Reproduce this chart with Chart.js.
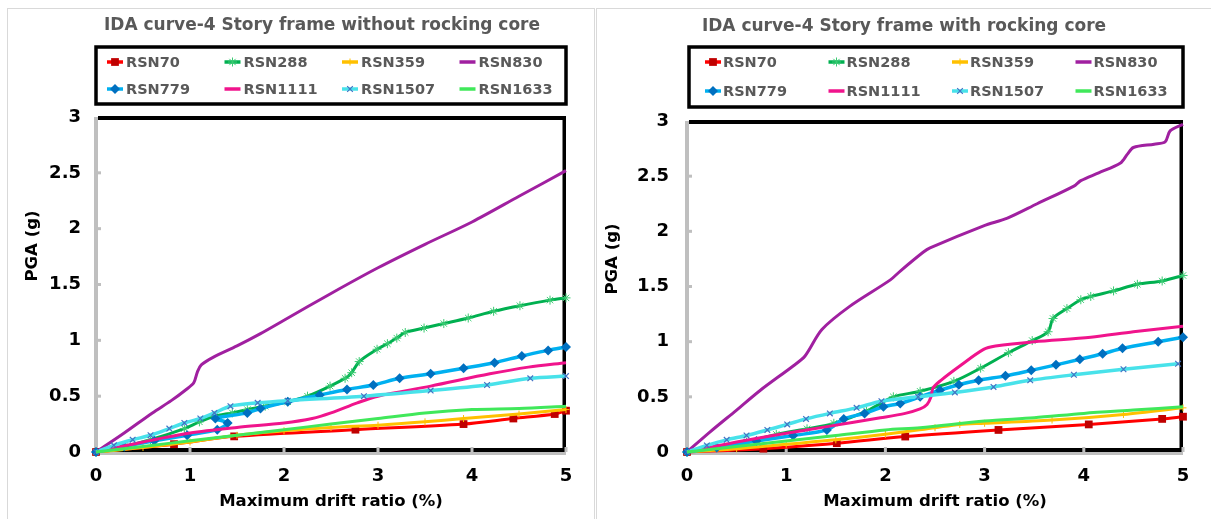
<!DOCTYPE html>
<html>
<head>
<meta charset="utf-8">
<script src="https://cdn.jsdelivr.net/npm/chart.js@4.4.1/dist/chart.umd.min.js"></script>
<style>
html,body{margin:0;padding:0;background:#fff;width:1211px;height:519px;overflow:hidden;}
.panel{position:absolute;border:1px solid #d9d9d9;background:#fff;}
#p1{left:7px;top:8px;width:586px;height:520px;}
#p2{left:596px;top:8px;width:620px;height:520px;}
canvas{position:absolute;left:0;top:0;}
</style>
</head>
<body>
<div class="panel" id="p1"><canvas id="c1" width="586" height="510" style="width:586px;height:510px"></canvas></div>
<div class="panel" id="p2"><canvas id="c2" width="614" height="510" style="width:614px;height:510px"></canvas></div>
<script>
// ---------- DATA ----------
const SERIES = ['RSN70','RSN288','RSN359','RSN830','RSN779','RSN1111','RSN1507','RSN1633'];
const TITLES = ['IDA curve-4 Story frame without rocking core', 'IDA curve-4 Story frame with rocking core'];
const X_TITLE = 'Maximum drift ratio (%)';
const Y_TITLE = 'PGA (g)';
const X_RANGE = [0, 5, 1];     // min, max, step
const Y_RANGE = [0, 3, 0.5];

// Panel 1: without rocking core  [drift %, PGA g]
const noCore_RSN70 = [[0,0],[0.83,0.07],[1.47,0.14],[2.76,0.20],[3.91,0.25],[4.44,0.30],[4.88,0.34],[5,0.37]];
const noCore_RSN288 = [[0,0],[0.3,0.05],[0.58,0.11],[0.94,0.21],[1.1,0.27],[1.26,0.32],[1.45,0.35],[1.61,0.38],[1.8,0.41],[2.04,0.45],[2.25,0.5],[2.49,0.59],[2.65,0.66],[2.72,0.71],[2.8,0.81],[2.99,0.92],[3.1,0.97],[3.2,1.02],[3.29,1.07],[3.49,1.11],[3.7,1.15],[3.96,1.20],[4.23,1.26],[4.51,1.31],[4.83,1.36],[5,1.38]];
const noCore_RSN359 = [[0,0],[0.5,0.04],[1,0.09],[1.5,0.15],[2,0.19],[2.5,0.22],[3,0.24],[3.5,0.27],[3.91,0.30],[4.5,0.34],[5,0.38]];
const noCore_RSN830 = [[0,0],[0.3,0.17],[0.6,0.35],[0.8,0.46],[0.96,0.56],[1.04,0.62],[1.08,0.72],[1.12,0.78],[1.25,0.85],[1.5,0.95],[1.75,1.06],[2,1.18],[2.5,1.42],[3,1.65],[3.5,1.86],[4,2.06],[4.5,2.29],[5,2.52]];
const noCore_RSN779 = [[0,0],[0.3,0.05],[0.62,0.1],[0.97,0.15],[1.29,0.2],[1.40,0.26],[1.27,0.30],[1.61,0.35],[1.75,0.39],[2.04,0.45],[2.38,0.51],[2.67,0.56],[2.95,0.60],[3.23,0.66],[3.56,0.70],[3.91,0.75],[4.24,0.80],[4.53,0.86],[4.81,0.91],[5,0.94]];
const noCore_RSN1111 = [[0,0],[0.5,0.09],[1.0,0.17],[1.5,0.22],[2.0,0.26],[2.3,0.3],[2.5,0.35],[2.78,0.44],[3.0,0.50],[3.56,0.59],[4.19,0.70],[4.6,0.76],[5,0.80]];
const noCore_RSN1507 = [[0,0],[0.19,0.06],[0.39,0.11],[0.58,0.15],[0.78,0.21],[0.94,0.26],[1.11,0.30],[1.26,0.35],[1.43,0.41],[1.72,0.44],[2.04,0.46],[2.85,0.50],[3.56,0.55],[4.16,0.60],[4.62,0.66],[5,0.68]];
const noCore_RSN1633 = [[0,0],[0.5,0.05],[1,0.10],[1.5,0.15],[2,0.20],[2.5,0.25],[3,0.30],[3.5,0.35],[4,0.38],[4.5,0.39],[5,0.41]];

// Panel 2: with rocking core
const withCore_RSN70 = [[0,0],[0.77,0.03],[1.51,0.08],[2.20,0.14],[3.14,0.20],[4.05,0.25],[4.79,0.30],[5,0.32]];
const withCore_RSN288 = [[0,0],[0.3,0.04],[0.6,0.09],[0.9,0.16],[1.21,0.21],[1.48,0.26],[1.81,0.37],[2.08,0.50],[2.35,0.55],[2.69,0.64],[2.96,0.76],[3.24,0.90],[3.48,1.01],[3.64,1.09],[3.69,1.21],[3.83,1.30],[3.97,1.38],[4.07,1.41],[4.30,1.46],[4.54,1.52],[4.79,1.55],[5,1.60]];
const withCore_RSN359 = [[0,0],[0.5,0.03],[1,0.07],[1.5,0.11],[2,0.16],[2.5,0.22],[2.75,0.25],[3,0.26],[3.68,0.29],[4.4,0.34],[5,0.40]];
const withCore_RSN830 = [[0,0],[0.23,0.18],[0.5,0.38],[0.74,0.56],[1.07,0.78],[1.19,0.87],[1.36,1.11],[1.64,1.32],[2.05,1.56],[2.15,1.64],[2.38,1.81],[2.45,1.85],[2.99,2.05],[3.23,2.12],[3.53,2.25],[3.90,2.41],[3.97,2.46],[4.15,2.53],[4.37,2.62],[4.44,2.70],[4.50,2.76],[4.71,2.79],[4.82,2.81],[4.87,2.91],[5.0,2.97]];
const withCore_RSN779 = [[0,0],[0.3,0.04],[0.7,0.1],[1.07,0.15],[1.41,0.20],[1.58,0.30],[1.79,0.35],[1.98,0.41],[2.15,0.44],[2.35,0.50],[2.55,0.56],[2.74,0.61],[2.94,0.65],[3.21,0.69],[3.47,0.74],[3.72,0.79],[3.96,0.84],[4.19,0.89],[4.39,0.94],[4.75,1.00],[5,1.04]];
const withCore_RSN1111 = [[0,0],[0.5,0.09],[1.0,0.17],[1.41,0.23],[1.95,0.31],[2.2,0.35],[2.35,0.39],[2.42,0.43],[2.46,0.5],[2.48,0.58],[2.56,0.65],[2.75,0.78],[2.99,0.93],[3.11,0.96],[3.5,1.0],[4.07,1.04],[4.5,1.09],[5,1.14]];
const withCore_RSN1507 = [[0,0],[0.20,0.06],[0.40,0.11],[0.60,0.15],[0.81,0.20],[1.01,0.25],[1.20,0.30],[1.44,0.35],[1.71,0.40],[1.96,0.46],[2.33,0.50],[2.70,0.54],[3.09,0.59],[3.46,0.65],[3.90,0.70],[4.40,0.75],[4.95,0.80]];
const withCore_RSN1633 = [[0,0],[0.5,0.05],[1,0.1],[1.5,0.15],[2,0.2],[2.35,0.22],[3,0.28],[3.5,0.31],[4,0.35],[4.5,0.38],[5,0.41]];

const PANEL_DATA = [
  [noCore_RSN70, noCore_RSN288, noCore_RSN359, noCore_RSN830, noCore_RSN779, noCore_RSN1111, noCore_RSN1507, noCore_RSN1633],
  [withCore_RSN70, withCore_RSN288, withCore_RSN359, withCore_RSN830, withCore_RSN779, withCore_RSN1111, withCore_RSN1507, withCore_RSN1633]
];

// ---------- STYLE ----------
const FONT = "'DejaVu Sans', 'Liberation Sans', sans-serif";
const STYLE = {
  RSN70:   {borderColor:'#ff0000', borderWidth:3, pointStyle:'rect', pointRadius:5.5, pointBackgroundColor:'#c00000', pointBorderColor:'#c00000', pointBorderWidth:0},
  RSN288:  {borderColor:'#00b050', borderWidth:3, pointStyle:'star', pointRadius:4.5, pointBackgroundColor:'#3acb72', pointBorderColor:'#3acb72', pointBorderWidth:1},
  RSN359:  {borderColor:'#ffc000', borderWidth:3, pointStyle:'cross', pointRadius:3.5, pointBackgroundColor:'#ffc000', pointBorderColor:'#ffc000', pointBorderWidth:1},
  RSN830:  {borderColor:'#a020a0', borderWidth:3, pointRadius:0},
  RSN779:  {borderColor:'#00b0f0', borderWidth:3.5, pointStyle:'rectRot', pointRadius:5, pointBackgroundColor:'#0070c0', pointBorderColor:'#0070c0', pointBorderWidth:0},
  RSN1111: {borderColor:'#f0148c', borderWidth:3, pointRadius:0},
  RSN1507: {borderColor:'#48e2ea', borderWidth:3.5, pointStyle:'crossRot', pointRadius:4, pointBackgroundColor:'#4472c4', pointBorderColor:'#4472c4', pointBorderWidth:1.2},
  RSN1633: {borderColor:'#40e85a', borderWidth:3, pointRadius:0}
};

function legendMarker(ctx, ds, x, y) {
  const r = ds.pointRadius;
  if (!r) return;
  ctx.save();
  ctx.fillStyle = ds.pointBackgroundColor;
  ctx.strokeStyle = ds.pointBorderColor;
  ctx.lineWidth = ds.pointBorderWidth || 1;
  ctx.beginPath();
  const s = ds.pointStyle;
  if (s === 'rect') { const h = r * Math.SQRT1_2; ctx.rect(x-h, y-h, 2*h, 2*h); ctx.fill(); }
  else if (s === 'rectRot') { ctx.moveTo(x, y-r); ctx.lineTo(x+r, y); ctx.lineTo(x, y+r); ctx.lineTo(x-r, y); ctx.closePath(); ctx.fill(); }
  else {
    const d = r * Math.SQRT1_2;
    if (s === 'cross' || s === 'star') { ctx.moveTo(x, y-r); ctx.lineTo(x, y+r); ctx.moveTo(x-r, y); ctx.lineTo(x+r, y); }
    if (s === 'crossRot' || s === 'star') { ctx.moveTo(x-d, y-d); ctx.lineTo(x+d, y+d); ctx.moveTo(x+d, y-d); ctx.lineTo(x-d, y+d); }
    ctx.stroke();
  }
  ctx.restore();
}

const panelPlugin = {
  id: 'panel',
  beforeDatasetsDraw(chart) {
    const {ctx, chartArea: a, scales: {x, y}} = chart;
    ctx.save();
    ctx.fillStyle = '#bfbfbf';
    ctx.fillRect(a.left - 2, a.top, 4, a.bottom - a.top + 3);
    ctx.fillRect(a.left - 2, a.bottom, a.right - a.left + 2, 3);
    ctx.fillStyle = '#000';
    ctx.fillRect(a.left + 2, a.top - 1, a.right - a.left - 2, 4);
    ctx.fillRect(a.right - 3.5, a.top - 1, 3.5, a.bottom - a.top + 1);
    ctx.fillRect(a.left + 2, a.bottom - 4, a.right - a.left - 2, 4);
    ctx.fillStyle = '#bfbfbf';
    y.ticks.forEach(t => { if (t.value > 0 && t.value < Y_RANGE[1]) { const p = y.getPixelForValue(t.value); ctx.fillRect(a.left + 2, p - 1.5, 3, 3); } });
    x.ticks.forEach(t => { if (t.value > 0) { const p = x.getPixelForValue(t.value); ctx.fillRect(p - 1.5, a.bottom - 5, 3, 5); } });
    ctx.restore();
  },
  afterDraw(chart, args, o) {
    const ctx = chart.ctx;
    ctx.save();
    ctx.textAlign = 'center';
    ctx.textBaseline = 'middle';
    ctx.font = 'bold 17px ' + FONT;
    ctx.fillStyle = '#595959';
    ctx.fillText(o.title, o.titleX, o.titleY);
    ctx.save();
    ctx.translate(o.yTitleX, o.yTitleY);
    ctx.rotate(-Math.PI / 2);
    ctx.font = 'bold 16.5px ' + FONT;
    ctx.fillStyle = '#000';
    ctx.fillText(Y_TITLE, 0, 0);
    ctx.restore();
    const L = o.legend;
    ctx.lineWidth = 3.5;
    ctx.strokeStyle = '#000';
    ctx.strokeRect(L.x, L.y, L.w, L.h);
    ctx.font = 'bold 14.5px ' + FONT;
    ctx.textAlign = 'left';
    chart.data.datasets.forEach((ds, i) => {
      const col = i % 4, row = Math.floor(i / 4);
      const mx = L.x + col * L.w / 4 + L.markerOff, my = L.rows[row];
      ctx.strokeStyle = ds.borderColor;
      ctx.lineWidth = 3.5;
      ctx.beginPath(); ctx.moveTo(mx - 8, my); ctx.lineTo(mx + 8, my); ctx.stroke();
      legendMarker(ctx, ds, mx, my);
      ctx.fillStyle = '#595959';
      ctx.fillText(ds.label, mx + L.textOff, my + 1);
    });
    ctx.restore();
  }
};

function makeChart(canvasId, panelIdx, geo) {
  const datasets = SERIES.map((name, i) => Object.assign({
    label: name,
    data: PANEL_DATA[panelIdx][i].map(p => ({x: p[0], y: p[1]})),
    showLine: true, fill: false, tension: 0.3, clip: false, order: -i
  }, STYLE[name]));
  const tickFont = {family: FONT, size: 18, weight: 'bold'};
  const fmt = v => String(Math.round(v * 10) / 10);
  return new Chart(document.getElementById(canvasId), {
    type: 'scatter',
    data: {datasets},
    plugins: [panelPlugin],
    options: {
      responsive: false, animation: false, devicePixelRatio: 1,
      layout: {padding: {top: geo.top, right: geo.right, bottom: 7, left: 0}},
      plugins: {
        legend: {display: false}, tooltip: {enabled: false}, title: {display: false},
        panel: {title: TITLES[panelIdx], titleX: geo.titleX, titleY: geo.titleY, yTitleX: geo.yTitleX, yTitleY: geo.yTitleY, legend: geo.legend}
      },
      scales: {
        x: {type: 'linear', min: X_RANGE[0], max: X_RANGE[1],
            ticks: {stepSize: X_RANGE[2], padding: 14, color: '#000', font: tickFont, callback: fmt},
            grid: {display: false, drawTicks: false}, border: {display: false},
            title: {display: true, text: X_TITLE, color: '#000', font: {family: FONT, size: 16.5, weight: 'bold'}, padding: {top: 0, bottom: 0}},
            afterFit(s) { s.height = 60; }},
        y: {type: 'linear', min: Y_RANGE[0], max: Y_RANGE[1],
            ticks: {stepSize: Y_RANGE[2], padding: geo.yPad, color: '#000', font: tickFont, callback: fmt},
            grid: {display: false, drawTicks: false}, border: {display: false},
            afterFit(s) { s.width = geo.yWidth; }}
      }
    }
  });
}

makeChart('c1', 0, {top: 108, right: 28, yWidth: 88, yPad: 15, titleX: 314, titleY: 17, yTitleX: 25, yTitleY: 237,
  legend: {x: 88, y: 38, w: 470, h: 57, rows: [53, 80], markerOff: 19, textOff: 11}});
makeChart('c2', 1, {top: 112, right: 28, yWidth: 90, yPad: 18, titleX: 307, titleY: 18, yTitleX: 16, yTitleY: 250,
  legend: {x: 92, y: 38, w: 494, h: 60, rows: [53, 82], markerOff: 24, textOff: 10}});
</script>
</body>
</html>
